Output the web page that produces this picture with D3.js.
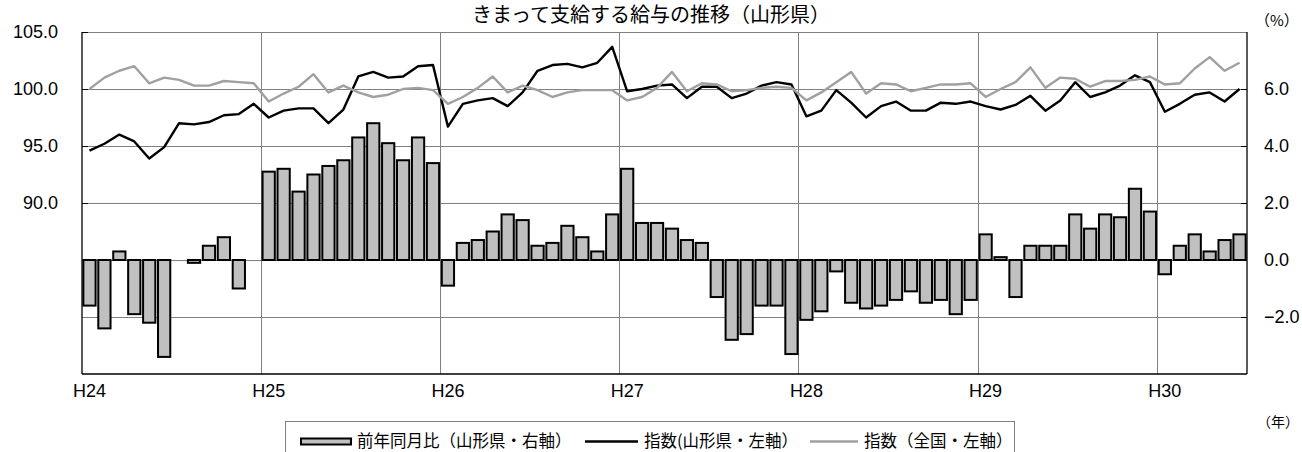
<!DOCTYPE html>
<html><head><meta charset="utf-8">
<script src="https://cdn.jsdelivr.net/npm/d3@7"></script>
<style>
html,body{margin:0;padding:0;background:#fff;}
svg{display:block;}
</style></head>
<body>
<svg id="chart" width="1302" height="452"></svg>
<script>
// ---- data ----
const yearLabels = ["H24","H25","H26","H27","H28","H29","H30"];
const monthsPerYear = [12,12,12,12,12,12,6];
const categories = [];
yearLabels.forEach((y,i)=>{ for(let m=1;m<=monthsPerYear[i];m++) categories.push(y+"-"+m); });

const yoyYamagata = [
  -1.6,-2.4,0.3,-1.9,-2.2,-3.4,0.0,-0.1,0.5,0.8,-1.0,0.0,
  3.1,3.2,2.4,3.0,3.3,3.5,4.3,4.8,4.1,3.5,4.3,3.4,
  -0.9,0.6,0.7,1.0,1.6,1.4,0.5,0.6,1.2,0.8,0.3,1.6,
  3.2,1.3,1.3,1.1,0.7,0.6,-1.3,-2.8,-2.6,-1.6,-1.6,-3.3,
  -2.1,-1.8,-0.4,-1.5,-1.7,-1.6,-1.4,-1.1,-1.5,-1.4,-1.9,-1.4,
  0.9,0.1,-1.3,0.5,0.5,0.5,1.6,1.1,1.6,1.5,2.5,1.7,
  -0.5,0.5,0.9,0.3,0.7,0.9
];
const indexYamagata = [
  94.6,95.2,96.0,95.4,93.9,94.9,97.0,96.9,97.1,97.7,97.8,98.7,
  97.5,98.1,98.3,98.3,97.0,98.2,101.1,101.5,101.0,101.1,102.0,102.1,
  96.7,98.7,99.0,99.2,98.5,99.7,101.6,102.1,102.2,101.9,102.3,103.7,
  99.8,100.0,100.3,100.4,99.2,100.2,100.2,99.2,99.6,100.3,100.6,100.4,
  97.6,98.1,99.9,98.8,97.5,98.5,98.9,98.1,98.1,98.8,98.7,98.9,
  98.5,98.2,98.6,99.4,98.1,99.0,100.6,99.3,99.7,100.3,101.2,100.6,
  98.0,98.7,99.5,99.7,98.9,100.0
];
const indexNational = [
  100.0,101.0,101.6,102.0,100.5,101.0,100.8,100.3,100.3,100.7,100.6,100.5,
  98.9,99.6,100.2,101.3,99.7,100.3,99.7,99.3,99.5,100.0,100.1,99.9,
  98.7,99.3,100.1,101.1,99.7,100.3,99.9,99.3,99.7,99.9,99.9,99.9,
  99.0,99.3,100.1,101.5,99.8,100.5,100.4,99.8,99.9,100.1,100.2,100.1,
  99.0,99.7,100.6,101.5,99.6,100.5,100.4,99.8,100.1,100.4,100.4,100.5,
  99.3,100.0,100.6,101.9,100.1,101.0,100.9,100.2,100.7,100.7,100.8,101.1,
  100.4,100.5,101.8,102.8,101.6,102.3
];
const leftTicks = [90,95,100,105];
const rightTicks = [-2,0,2,4,6];
const leftGrid = [80,85,90,95,100,105];
const titleText = "きまって支給する給与の推移（山形県）";
const legendLabels = ["前年同月比（山形県・右軸）","指数(山形県・左軸）","指数（全国・左軸）"];

// ---- layout ----
const L = 82, R = 1247, T = 32, B = 374;
const svg = d3.select("#chart");
const numFont = "'Liberation Sans', Arial, sans-serif";
const jpFont = "'Noto Sans CJK JP', sans-serif";

const x = d3.scaleBand().domain(categories).range([L, R]).paddingInner(0.18).paddingOuter(0.09);
const step = x.step();
const xc = c => x(c) + x.bandwidth()/2;
const yL = d3.scaleLinear().domain([75,105]).range([B,T]);
const yR = d3.scaleLinear().domain([-4,8]).range([B,T]);

// title
svg.append("text").attr("x", 651).attr("y", 22).attr("text-anchor","middle")
  .attr("font-family", jpFont).attr("font-size", 20).attr("fill","#000").text(titleText);

// gridlines horizontal
svg.append("g").selectAll("line").data(leftGrid).join("line")
  .attr("x1", L).attr("x2", R).attr("y1", d=>yL(d)).attr("y2", d=>yL(d))
  .attr("stroke", "#808080").attr("stroke-width", 1).attr("shape-rendering","crispEdges");

// vertical year gridlines
const yearStarts = yearLabels.map(y => y + "-1");
const yearBoundary = c => L + categories.indexOf(c) * step;
svg.append("g").selectAll("line").data(yearStarts.slice(1)).join("line")
  .attr("x1", d=>yearBoundary(d)).attr("x2", d=>yearBoundary(d)).attr("y1", T).attr("y2", B)
  .attr("stroke", "#808080").attr("stroke-width", 1).attr("shape-rendering","crispEdges");

// bars
const barData = categories.map((c,i)=>({c, v: yoyYamagata[i]})).filter(d => d.v !== 0);
svg.append("g").selectAll("rect").data(barData).join("rect")
  .attr("x", d=>x(d.c)).attr("width", x.bandwidth())
  .attr("y", d=>Math.min(yR(d.v), yR(0)))
  .attr("height", d=>Math.abs(yR(d.v)-yR(0)))
  .attr("fill", "#c0c0c0").attr("stroke", "#000").attr("stroke-width", 2);

// lines
const lineL = d3.line().x((d,i)=>xc(categories[i])).y(d=>yL(d));
svg.append("path").datum(indexYamagata).attr("d", lineL)
  .attr("fill","none").attr("stroke","#000").attr("stroke-width",2.4).attr("stroke-linejoin","round");
svg.append("path").datum(indexNational).attr("d", lineL)
  .attr("fill","none").attr("stroke","#a0a0a0").attr("stroke-width",2.4).attr("stroke-linejoin","round");

// frame: left, bottom, right black
svg.append("line").attr("x1",L).attr("x2",L).attr("y1",T).attr("y2",B).attr("stroke","#000").attr("stroke-width",1.3);
svg.append("line").attr("x1",R).attr("x2",R).attr("y1",T).attr("y2",B).attr("stroke","#000").attr("stroke-width",1.3);
svg.append("line").attr("x1",L).attr("x2",R).attr("y1",B).attr("y2",B).attr("stroke","#000").attr("stroke-width",1.3);

// left axis
const axL = svg.append("g").attr("transform", `translate(${L},0)`)
  .call(d3.axisLeft(yL).tickValues(leftTicks).tickFormat(d3.format(".1f")).tickSizeInner(-6).tickSizeOuter(0).tickPadding(24));
axL.select(".domain").remove();
axL.selectAll(".tick line").attr("stroke","#000");
axL.selectAll("text").attr("font-family", numFont).attr("font-size", 18).attr("fill","#000");

// right axis
const axR = svg.append("g").attr("transform", `translate(${R},0)`)
  .call(d3.axisRight(yR).tickValues(rightTicks).tickFormat(d3.format(".1f")).tickSizeInner(-6).tickSizeOuter(0).tickPadding(17));
axR.select(".domain").remove();
axR.selectAll(".tick line").attr("stroke","#000");
axR.selectAll("text").attr("font-family", numFont).attr("font-size", 18).attr("fill","#000");

// x labels
svg.append("g").selectAll("text").data(yearStarts).join("text")
  .attr("x", d=>xc(d)).attr("y", 397).attr("text-anchor","middle")
  .attr("font-family", numFont).attr("font-size", 18).attr("fill","#000")
  .text(d=>d.split("-")[0]);

// unit labels
svg.append("text").attr("x", 1255).attr("y", 26).attr("font-family", jpFont).attr("font-size", 15).attr("fill","#000").text("（%）");
svg.append("text").attr("x", 1257).attr("y", 427).attr("font-family", jpFont).attr("font-size", 14).attr("fill","#000").text("（年）");

// legend
const lg = svg.append("g");
lg.append("rect").attr("x", 285.5).attr("y", 421.5).attr("width", 729).attr("height", 40)
  .attr("fill","#fff").attr("stroke","#808080").attr("stroke-width",1);
lg.append("rect").attr("x", 301).attr("y", 438.5).attr("width", 50).attr("height", 6)
  .attr("fill","#c0c0c0").attr("stroke","#000").attr("stroke-width",2);
lg.append("text").attr("x", 357).attr("y", 447).attr("font-family", jpFont).attr("font-size", 16.5).attr("fill","#000").text(legendLabels[0]);
lg.append("line").attr("x1", 585).attr("x2", 638).attr("y1", 441.5).attr("y2", 441.5).attr("stroke","#000").attr("stroke-width",2.4);
lg.append("text").attr("x", 644).attr("y", 447).attr("font-family", jpFont).attr("font-size", 16.5).attr("fill","#000").text(legendLabels[1]);
lg.append("line").attr("x1", 810).attr("x2", 858).attr("y1", 441.5).attr("y2", 441.5).attr("stroke","#a0a0a0").attr("stroke-width",2.4);
lg.append("text").attr("x", 864).attr("y", 447).attr("font-family", jpFont).attr("font-size", 16.5).attr("fill","#000").text(legendLabels[2]);
</script>
</body></html>
